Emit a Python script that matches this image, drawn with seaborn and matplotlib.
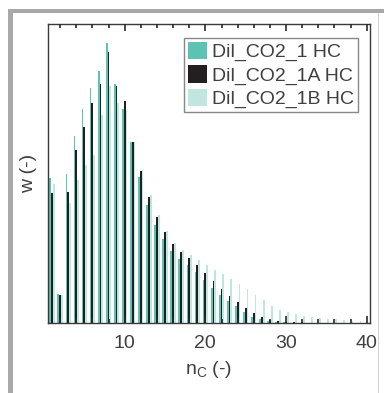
import matplotlib
matplotlib.use('Agg')
import matplotlib.pyplot as plt
import seaborn as sns
import numpy as np
import pandas as pd
from matplotlib.patches import Rectangle, Patch

# carbon number
n_c = list(range(1, 41))

# weight fractions (y axis has no scale, 0..0.1 used)
w_1 = [0.0484, 0.0098, 0.0499, 0.0624, 0.0715, 0.0787, 0.0843, 0.0935, 0.0800, 0.0716,
       0.0604, 0.0488, 0.0395, 0.0329, 0.0281, 0.0242, 0.0214, 0.0193, 0.0169, 0.0145,
       0.0118, 0.0095, 0.0072, 0.0056, 0.0037, 0.0020, 0.0012, 0.0007, 0.0003, 0.0002,
       0.0001, 0.0001, 0.0001, 0.0001, 0.0001, 0.0001, 0.0001, 0.0001, 0.0001, 0.0001]
w_1a = [0.0434, 0.0095, 0.0437, 0.0579, 0.0654, 0.0735, 0.0800, 0.0906, 0.0793, 0.0743,
        0.0607, 0.0510, 0.0420, 0.0353, 0.0303, 0.0264, 0.0239, 0.0218, 0.0195, 0.0167,
        0.0139, 0.0115, 0.0090, 0.0069, 0.0051, 0.0035, 0.0019, 0.0011, 0.0006, 0.0004,
        0.0002, 0.0002, 0.0001, 0.0001, 0.0001, 0.0001, 0.0001, 0.0001, 0.0001, 0.0001]
w_1b = [0.0465, 0.0095, 0.0401, 0.0479, 0.0529, 0.0562, 0.0696, 0.0793, 0.0737, 0.0709,
        0.0604, 0.0512, 0.0429, 0.0362, 0.0308, 0.0267, 0.0245, 0.0228, 0.0212, 0.0193,
        0.0176, 0.0163, 0.0146, 0.0129, 0.0113, 0.0093, 0.0076, 0.0056, 0.0042, 0.0036,
        0.0029, 0.0022, 0.0019, 0.0016, 0.0012, 0.0012, 0.0009, 0.0008, 0.0006, 0.0004]

samples = ['Dil_CO2_1 HC', 'Dil_CO2_1A HC', 'Dil_CO2_1B HC']
colors = ['#5CC2B3', '#231F20', '#BFE6DF']


def main():
    df = pd.DataFrame({
        'nc': n_c * 3,
        'w': w_1 + w_1a + w_1b,
        'sample': [samples[0]] * len(n_c) + [samples[1]] * len(n_c) + [samples[2]] * len(n_c),
    })

    sns.set_style('ticks')
    plt.rcParams['font.family'] = ['Liberation Sans', 'DejaVu Sans']
    text_col = '#404040'

    fig = plt.figure(figsize=(3.84, 3.93), dpi=100)
    ax = fig.add_axes([48 / 384, 1 - 323 / 393, 322 / 384, 299 / 393])

    sns.barplot(data=df, x='nc', y='w', hue='sample', hue_order=samples,
                palette=colors, native_scale=True, width=0.66, dodge=True,
                errorbar=None, saturation=1, linewidth=0, legend=False, ax=ax)

    ax.set_xlim(0.5, 40.4)
    ax.set_ylim(0, 0.1)
    ax.tick_params(axis='y', which='both', left=False, right=False, labelleft=False)
    for sp in ax.spines.values():
        sp.set_visible(True)
        sp.set_color('#3A3A3A')
        sp.set_linewidth(1.0)

    ax.set_xlabel(r'n$_\mathregular{C}$ (-)', fontsize=14, color=text_col, labelpad=5)
    ax.set_ylabel('w (-)', fontsize=14, color=text_col, labelpad=8)

    handles = [Patch(facecolor=c, edgecolor='none') for c in colors]
    leg = ax.legend(handles, samples, loc='upper right', bbox_to_anchor=(0.9627, 0.953),
                    borderaxespad=0, fontsize=14, fancybox=False, frameon=True,
                    handlelength=1.0, handleheight=1.0, handletextpad=0.25,
                    labelspacing=0.2, borderpad=0.2, labelcolor=text_col)
    leg.get_frame().set_edgecolor('#6A6A6A')
    leg.get_frame().set_linewidth(1.0)

    # x ticks, inward on bottom and top, drawn above the bars
    ax.set_xticks([10, 20, 30, 40])
    ax.set_xticks(np.arange(2, 41, 2), minor=True)
    ax.set_axisbelow(False)
    ax.xaxis.set_zorder(5)
    ax.tick_params(axis='x', which='major', direction='in', top=True, bottom=True,
                   length=5, width=1.2, color='#2A2A2A', pad=9,
                   labelsize=14, labelcolor=text_col)
    ax.tick_params(axis='x', which='minor', direction='in', top=True, bottom=True,
                   length=3, width=1.2, color='#2A2A2A')

    # grey window frame around the figure
    gray = '#A8A8AA'
    fig.add_artist(Rectangle((8 / 384, 1 - 13 / 393), 1 - 8 / 384, 4 / 393,
                             transform=fig.transFigure, facecolor=gray, edgecolor='none'))
    fig.add_artist(Rectangle((8 / 384, 0), 5 / 384, 1 - 9 / 393,
                             transform=fig.transFigure, facecolor=gray, edgecolor='none'))
    fig.add_artist(Rectangle((378 / 384, 0), 1.2 / 384, 1 - 13 / 393,
                             transform=fig.transFigure, facecolor='#CFCFCF', edgecolor='none'))

    fig.savefig('out.png', dpi=100)
    plt.close(fig)


if __name__ == '__main__':
    main()
